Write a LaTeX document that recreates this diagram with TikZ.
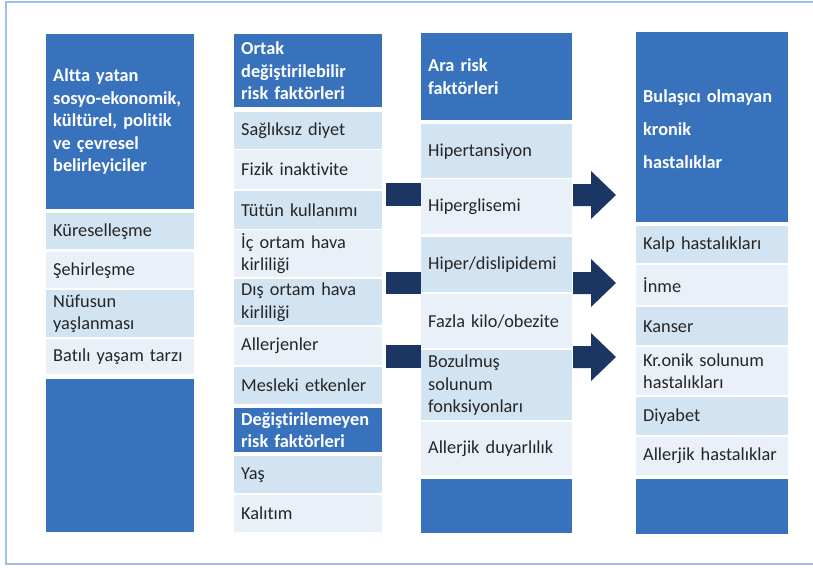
\documentclass[tikz,border=0pt]{standalone}
\usepackage{fontspec}
\setmainfont[Ligatures=CommonOff]{Carlito}
\definecolor{hdr}{RGB}{56,114,189}
\definecolor{dk}{RGB}{210,227,242}
\definecolor{lt}{RGB}{233,240,248}
\definecolor{navy}{RGB}{27,54,98}
\definecolor{framec}{RGB}{160,192,232}
\hyphenpenalty=10000
\exhyphenpenalty=10000
\begin{document}
\begin{tikzpicture}[x=1pt,y=-1pt,
  every node/.style={inner ysep=0pt, inner xsep=7pt, anchor=north west, align=left,
    font=\fontsize{18.3}{22.5}\selectfont},
  colA/.style={minimum width=148pt, text width=134pt},
  colC/.style={minimum width=151pt, text width=137pt},
  colD/.style={minimum width=152pt, text width=138pt},
  hdrbox/.style={fill=hdr, text=white, font=\bfseries\fontsize{18.3}{22.5}\selectfont},
  dkbox/.style={fill=dk, text=black!85},
  ltbox/.style={fill=lt, text=black!85},
  shaft/.style={fill=navy}]
\useasboundingbox (0,0) rectangle (813,567);
\draw[framec, line width=2pt] (6,2) rectangle (830,564);

% column 1
\node[colA,hdrbox,minimum height=175pt] (h1) at (46,34) {Altta yatan\\sosyo-ekonomik,\\kültürel, politik\\ve çevresel\\belirleyiciler};
\node[colA,dkbox,minimum height=36pt] (kur) at (46,213) {Küreselleşme};
\node[colA,ltbox,minimum height=36pt] (seh) at (46,252) {Şehirleşme};
\node[colA,dkbox,minimum height=47pt] (nuf) at (46,290) {Nüfusun\\yaşlanması};
\node[colA,ltbox,minimum height=35pt] (bat) at (46,339) {Batılı yaşam tarzı};
\node[colA,hdrbox,minimum height=153pt] (b1) at (46,379) {};

% column 2
\node[colA,hdrbox,minimum height=73pt] (h2) at (234,34) {Ortak\\değiştirilebilir\\risk faktörleri};
\node[colA,dkbox,minimum height=37pt] (sag) at (234,112) {Sağlıksız diyet};
\node[colA,ltbox,minimum height=39pt] (fiz) at (234,150) {Fizik inaktivite};
\node[colA,dkbox,minimum height=38pt] (tut) at (234,191) {Tütün kullanımı};
\node[colA,ltbox,minimum height=47pt] (ic) at (234,230) {İç ortam hava\\kirliliği};
\node[colA,dkbox,minimum height=46pt] (dis) at (234,279) {Dış ortam hava\\kirliliği};
\node[colA,ltbox,minimum height=38pt] (all) at (234,327) {Allerjenler};
\node[colA,dkbox,minimum height=37pt] (mes) at (234,367) {Mesleki etkenler};
\node[colA,hdrbox,minimum height=44pt] (h2b) at (234,408) {Değiştirilemeyen\\risk faktörleri};
\node[colA,dkbox,minimum height=37pt] (yas) at (234,456) {Yaş};
\node[colA,ltbox,minimum height=37pt] (kal) at (234,495) {Kalıtım};

% bars from column 2 to column 3
\fill[shaft] (386,183) rectangle (421,206);
\fill[shaft] (386,272) rectangle (421,294);
\fill[shaft] (386,345) rectangle (421,368);

% column 3
\node[colC,hdrbox,minimum height=87pt] (h3) at (421,33) {Ara risk\\faktörleri};
\node[colC,dkbox,minimum height=54pt] (hip) at (421,124) {Hipertansiyon};
\node[colC,ltbox,minimum height=55pt] (hgl) at (421,179) {Hiperglisemi};
\node[colC,dkbox,minimum height=55pt] (hdl) at (421,237) {Hiper/dislipidemi};
\node[colC,ltbox,minimum height=54pt] (faz) at (421,294) {Fazla kilo/obezite};
\node[colC,dkbox,minimum height=70pt] (boz) at (421,350) {Bozulmuş\\solunum\\fonksiyonları};
\node[colC,ltbox,minimum height=53pt] (alj) at (421,422) {Allerjik duyarlılık};
\node[colC,hdrbox,minimum height=54pt] (b3) at (421,479) {};

% block arrows from column 3 to column 4
\foreach \cy in {195,283,357}{
  \fill[shaft] (573,{\cy-11}) -- (591,{\cy-11}) -- (591,{\cy-24}) -- (616,\cy)
    -- (591,{\cy+24}) -- (591,{\cy+11}) -- (573,{\cy+11}) -- cycle;
}

% column 4
\fill[hdr] (636,32) rectangle (788,36);
\node[colD,hdrbox,minimum height=187pt,font=\bfseries\fontsize{18.3}{33}\selectfont] (h4) at (636,35) {Bulaşıcı olmayan\\kronik\\hastalıklar};
\node[colD,dkbox,minimum height=37pt] (kalp) at (636,226) {Kalp hastalıkları};
\node[colD,ltbox,minimum height=40pt] (inme) at (636,265) {İnme};
\node[colD,dkbox,minimum height=38pt] (kan) at (636,307) {Kanser};
\node[colD,ltbox,minimum height=48pt] (kro) at (636,347) {Kr.onik solunum\\hastalıkları};
\node[colD,dkbox,minimum height=38pt] (diy) at (636,397) {Diyabet};
\node[colD,ltbox,minimum height=38pt] (alh) at (636,437) {Allerjik hastalıklar};
\node[colD,hdrbox,minimum height=55pt] (b4) at (636,479) {};
\end{tikzpicture}
\end{document}
